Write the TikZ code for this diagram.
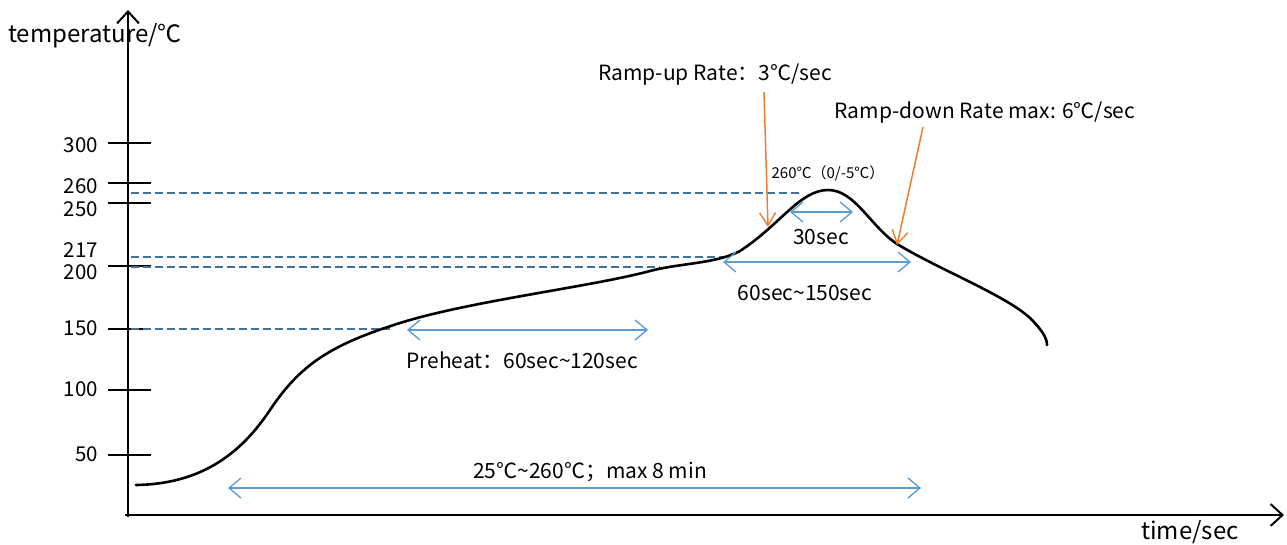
\documentclass[tikz,border=0pt]{standalone}
\usepackage{fontspec}
\setmainfont{Noto Sans CJK SC}
\usetikzlibrary{arrows.meta}
\definecolor{dashblue}{HTML}{41719C}
\definecolor{lblue}{HTML}{5B9BD5}
\definecolor{orng}{HTML}{ED7D31}
\tikzset{
  axis/.style={line width=2.2pt, -{Straight Barb[length=12pt,width=22pt,line width=2pt]}},
  tick/.style={line width=1.6pt},
  lvl/.style={dashblue, line width=1.8pt, dash pattern=on 8pt off 4pt},
  span/.style={lblue, line width=1.5pt, {Straight Barb[length=12pt,width=20pt,line width=1.3pt]}-{Straight Barb[length=12pt,width=20pt,line width=1.3pt]}},
  ptr/.style={orng, line width=1.5pt, -{Straight Barb[length=13pt,width=16pt,line width=1.4pt]}},
  tlab/.style={anchor=east, font=\fontsize{20.5}{20.5}\selectfont, inner sep=0pt},
  lab/.style={font=\fontsize{21}{21}\selectfont, inner sep=0pt},
  curve/.style={line width=2.6pt, line cap=round}
}
\begin{document}
\begin{tikzpicture}[x=1pt,y=-1pt]
\useasboundingbox (0,0) rectangle (1287,545);
% axes
\coordinate (o) at (128,517);
\coordinate (ytop) at (128,10);
\coordinate (xo) at (125,515);
\coordinate (xend) at (1284,515);
\draw[axis] (o) -- (ytop);
\draw[axis] (xo) -- (xend);
\node[font=\fontsize{24}{24}\selectfont, anchor=west, inner sep=0pt] (ylab) at (8,36) {temperature/℃};
\node[font=\fontsize{24}{24}\selectfont, inner sep=0pt] (xlab) at (1190,532) {time/sec};
% ticks
\foreach \yy/\nm in {143/t300,183/t260,203/t250,266/t200,329/t150,390/t100,455/t50}{
  \coordinate (\nm a) at (108,\yy);
  \coordinate (\nm b) at (151,\yy);
  \draw[tick] (\nm a) -- (\nm b);
}
\node[tlab] (l300) at (98,145) {300};
\node[tlab] (l260) at (98,186) {260};
\node[tlab] (l250) at (98,209) {250};
\node[tlab] (l217) at (98,250) {217};
\node[tlab] (l200) at (98,272) {200};
\node[tlab] (l150) at (98,328) {150};
\node[tlab] (l100) at (98,389) {100};
\node[tlab] (l50) at (98,454) {50};
% dashed levels
\coordinate (d260a) at (131,193); \coordinate (d260b) at (800,193);
\coordinate (d217a) at (131,257); \coordinate (d217b) at (725,257);
\coordinate (d200a) at (131,267); \coordinate (d200b) at (660,267);
\coordinate (d150a) at (131,329); \coordinate (d150b) at (390,329);
\draw[lvl] (d260a) -- (d260b);
\draw[lvl] (d217a) -- (d217b);
\draw[lvl] (d200a) -- (d200b);
\draw[lvl] (d150a) -- (d150b);
% profile curve
\draw[curve] (136,485) .. controls (200,484) and (240,455) .. (270,410)
  .. controls (300,365) and (330,345) .. (400,323)
  .. controls (470,301) and (590,287) .. (650,271)
  .. controls (680,263) and (715,264) .. (740,251)
  .. controls (780,225) and (800,190) .. (828,190)
  .. controls (855,190) and (870,226) .. (897,244)
  .. controls (940,270) and (1005,295) .. (1030,318)
  .. controls (1042,330) and (1047,338) .. (1047,345);
% blue spans
\coordinate (s30a) at (790,212); \coordinate (s30b) at (853,212);
\coordinate (s60a) at (723,262); \coordinate (s60b) at (911,262);
\coordinate (spa) at (407,330); \coordinate (spb) at (648,330);
\coordinate (sta) at (228,488); \coordinate (stb) at (921,488);
\draw[span] (s30a) -- (s30b);
\draw[span] (s60a) -- (s60b);
\draw[span] (spa) -- (spb);
\draw[span] (sta) -- (stb);
\node[lab] (l30) at (821,237) {30sec};
\node[lab] (l60) at (805,293) {60sec\textasciitilde150sec};
\node[lab] (lpre) at (522,360) {Preheat：60sec\textasciitilde120sec};
\node[lab] (ltot) at (590,472) {25℃\textasciitilde260℃；max 8 min};
% orange pointers
\node[lab] (rup) at (715,75) {Ramp-up Rate：3℃/sec};
\node[lab] (rdown) at (985,113) {Ramp-down Rate max: 6℃/sec};
\node[font=\fontsize{15}{15}\selectfont, inner sep=0pt] (pk) at (828,173) {260℃（0/-5℃）};
\coordinate (rupt) at (768,227);
\coordinate (rdownt) at (897,245);
\draw[ptr] (764,92) -- (rupt);
\draw[ptr] (923,127) -- (rdownt);
\end{tikzpicture}
\end{document}
